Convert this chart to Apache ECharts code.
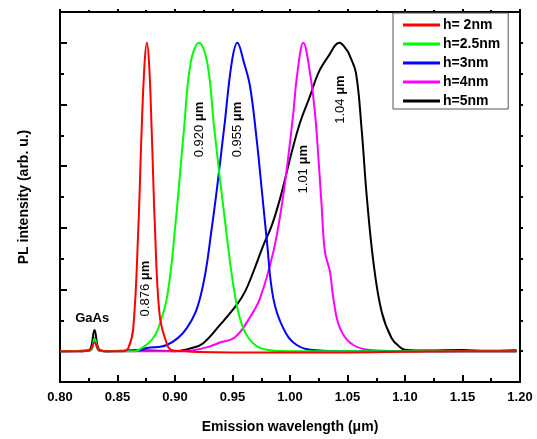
<!DOCTYPE html>
<html><head><meta charset="utf-8">
<script src="https://cdn.jsdelivr.net/npm/echarts@6/dist/echarts.min.js"></script>
<style>html,body{margin:0;padding:0;background:#fff}#c{width:537px;height:439px}</style>
</head><body><div id="c"></div><script>
// ---- data ----
const seriesNames = ['h= 2nm', 'h=2.5nm', 'h=3nm', 'h=4nm', 'h=5nm'];
const seriesColors = ['#ff0000', '#00ff00', '#0000ff', '#ff00ff', '#000000'];

const redX = [0.800, 0.820, 0.826, 0.830, 0.834, 0.840, 0.855, 0.8594, 0.8637, 0.8681, 0.8710, 0.8735, 0.8755, 0.8775, 0.8797, 0.8826, 0.8863, 0.8913, 0.8983, 0.95, 1.00, 1.05, 1.10, 1.15, 1.197];
const redY = [0, 0, 0.004, 0.028, 0.004, 0, 0, 0.01, 0.074, 0.397, 0.719, 0.93, 1.0, 0.93, 0.719, 0.397, 0.129, 0.042, 0.002, -0.004, -0.004, -0.004, -0.002, 0, 0];

const greenX = [0.800, 0.826, 0.830, 0.834, 0.840, 0.865, 0.871, 0.8797, 0.8855, 0.8933, 0.900, 0.9078, 0.9136, 0.9209, 0.9281, 0.9342, 0.9443, 0.9522, 0.9594, 0.9696, 0.9826, 1.00, 1.10, 1.197];
const greenY = [0, 0.002, 0.04, 0.002, 0, 0, 0.01, 0.036, 0.074, 0.18, 0.397, 0.719, 0.935, 1.0, 0.935, 0.719, 0.397, 0.18, 0.074, 0.02, 0.003, 0, 0, 0];

const blueX = [0.800, 0.826, 0.830, 0.834, 0.840, 0.870, 0.8754, 0.8928, 0.9101, 0.9223, 0.9319, 0.9426, 0.9493, 0.9542, 0.960, 0.9652, 0.9710, 0.9754, 0.9797, 0.9855, 0.9942, 1.0058, 1.0232, 1.05, 1.197];
const blueY = [0, 0.002, 0.042, 0.002, 0, 0.004, 0.01, 0.02, 0.074, 0.18, 0.397, 0.719, 0.935, 1.0, 0.935, 0.86, 0.687, 0.526, 0.365, 0.171, 0.074, 0.02, 0.003, 0, 0];

const magentaX = [0.800, 0.826, 0.830, 0.834, 0.840, 0.900, 0.9159, 0.930, 0.9391, 0.9522, 0.9652, 0.9739, 0.9855, 0.9928, 0.9986, 1.0029, 1.0064, 1.0116, 1.0174, 1.0217, 1.0246, 1.0275, 1.0304, 1.0348, 1.0377, 1.0435, 1.055, 1.0754, 1.10, 1.197];
const magentaY = [0, 0.002, 0.032, 0.002, 0, 0, 0.003, 0.015, 0.028, 0.045, 0.11, 0.171, 0.322, 0.472, 0.633, 0.773, 0.902, 1.0, 0.902, 0.773, 0.633, 0.472, 0.322, 0.257, 0.171, 0.074, 0.02, 0.002, 0, 0];

const blackX = [0.800, 0.820, 0.826, 0.830, 0.834, 0.840, 0.870, 0.900, 0.9145, 0.9246, 0.9391, 0.9536, 0.9609, 0.9681, 0.9768, 0.9841, 0.9913, 0.9957, 1.0014, 1.0087, 1.0174, 1.0246, 1.0333, 1.0429, 1.0493, 1.0522, 1.0574, 1.0623, 1.0667, 1.0725, 1.0797, 1.0884, 1.0957, 1.100, 1.120, 1.150, 1.170, 1.197];
const blackY = [0, 0, 0.005, 0.069, 0.005, 0, 0.003, 0, 0.01, 0.026, 0.085, 0.15, 0.193, 0.257, 0.343, 0.407, 0.494, 0.558, 0.644, 0.741, 0.827, 0.902, 0.956, 1.0, 0.977, 0.956, 0.902, 0.719, 0.504, 0.29, 0.128, 0.042, 0.013, 0.005, 0.002, 0.004, 0.001, 0.003];

const xTickLabels = ['0.80', '0.85', '0.90', '0.95', '1.00', '1.05', '1.10', '1.15', '1.20'];
const yMajorTicks = [0, 0.2, 0.4, 0.6, 0.8, 1.0];
const yMinorTicks = [0.1, 0.3, 0.5, 0.7, 0.9];

const peakLabels = ['0.876', '0.920', '0.955', '1.01', '1.04'];
const peakLabelX = [0.8739, 0.9209, 0.9542, 1.0116, 1.0435];
const peakLabelY = [0.203, 0.719, 0.719, 0.59, 0.816];
const gaasLabel = 'GaAs';
const gaasLabelPos = [0.828, 0.105];

// ---- chart ----
const FONT = 'Liberation Sans, Arial, sans-serif';
const xs = [redX, greenX, blueX, magentaX, blackX];
const ys = [redY, greenY, blueY, magentaY, blackY];
const chart = echarts.init(document.getElementById('c'), null, {renderer: 'canvas'});

const axisLine = {show: true, onZero: false, lineStyle: {color: '#000', width: 2}};
function yAxisDef(pos, ticks, len, inside, name) {
  return {
    type: 'value', min: -0.1, max: 1.1, position: pos,
    axisLine: axisLine,
    axisTick: {show: true, inside: inside, length: len, customValues: ticks, lineStyle: {color: '#000', width: 2}},
    axisLabel: {show: false}, splitLine: {show: false},
    name: name || '', nameLocation: 'middle', nameGap: 29,
    nameTextStyle: {fontFamily: FONT, fontWeight: 'bold', fontSize: 14, color: '#000'}
  };
}

const option = {
  animation: false,
  backgroundColor: '#fff',
  grid: {left: 60, right: 17, top: 12, bottom: 56},
  xAxis: [{
    type: 'value', min: 0.8, max: 1.2, interval: 0.05, position: 'bottom',
    axisLine: axisLine,
    axisTick: {show: true, inside: true, length: 7, lineStyle: {color: '#000', width: 2}},
    minorTick: {show: true, splitNumber: 2, length: 4, lineStyle: {color: '#000', width: 2}},
    splitLine: {show: false}, minorSplitLine: {show: false},
    axisLabel: {margin: 9, fontFamily: FONT, fontWeight: 'bold', fontSize: 13, color: '#000',
      formatter: v => xTickLabels[Math.round((v - 0.8) / 0.05)] || ''},
    name: 'Emission wavelength (\u03bcm)', nameLocation: 'middle', nameGap: 38,
    nameTextStyle: {fontFamily: FONT, fontWeight: 'bold', fontSize: 14, color: '#000'}
  }, {
    type: 'value', min: 0.8, max: 1.2, interval: 0.05, position: 'top',
    axisLine: axisLine,
    axisTick: {show: true, inside: false, length: 3, lineStyle: {color: '#000', width: 2}},
    minorTick: {show: true, splitNumber: 2, length: 2, lineStyle: {color: '#000', width: 2}},
    splitLine: {show: false}, axisLabel: {show: false}
  }],
  yAxis: [
    yAxisDef('left', yMajorTicks, 7, true, 'PL intensity (arb. u.)'),
    yAxisDef('left', yMinorTicks, 4, true),
    yAxisDef('right', yMajorTicks, 3, false),
    yAxisDef('right', yMinorTicks, 3, false)
  ],
  legend: {
    orient: 'vertical', left: 393, top: 13,
    data: seriesNames.map(n => ({name: n, icon: 'rect'})),
    itemWidth: 37, itemHeight: 3, itemGap: 3,
    padding: [4, 8, 0, 10],
    backgroundColor: '#fff', borderColor: '#555', borderWidth: 1,
    textStyle: {fontFamily: FONT, fontWeight: 'bold', fontSize: 14, color: '#000', padding: [0, 0, 0, -2], lineHeight: 16}
  },
  series: seriesNames.map((n, i) => ({
    name: n, type: 'line', xAxisIndex: 0, yAxisIndex: 0,
    data: xs[i].map((x, j) => [x, ys[i][j]]),
    showSymbol: false, symbol: 'none',
    smooth: 0.4,
    lineStyle: {color: seriesColors[i], width: 2},
    itemStyle: {color: seriesColors[i]},
    z: 10 - i
  }))
};
chart.setOption(option);

const graphics = peakLabels.map((t, i) => {
  const p = chart.convertToPixel({gridIndex: 0}, [peakLabelX[i], peakLabelY[i]]);
  return {
    type: 'text', x: p[0], y: p[1], rotation: Math.PI / 2, z: 100,
    style: {
      text: '{n|' + t + ' }{u|\u03bcm}',
      align: 'center', verticalAlign: 'middle',
      rich: {
        n: {fontFamily: FONT, fontSize: 13, fill: '#000'},
        u: {fontFamily: FONT, fontSize: 13, fontWeight: 'bold', fill: '#000'}
      }
    }
  };
});
const gp = chart.convertToPixel({gridIndex: 0}, gaasLabelPos);
graphics.push({
  type: 'text', x: gp[0], y: gp[1], z: 100,
  style: {text: gaasLabel, align: 'center', verticalAlign: 'middle',
    font: 'bold 13px ' + FONT, fill: '#000'}
});
chart.setOption({graphic: graphics});
</script></body></html>
